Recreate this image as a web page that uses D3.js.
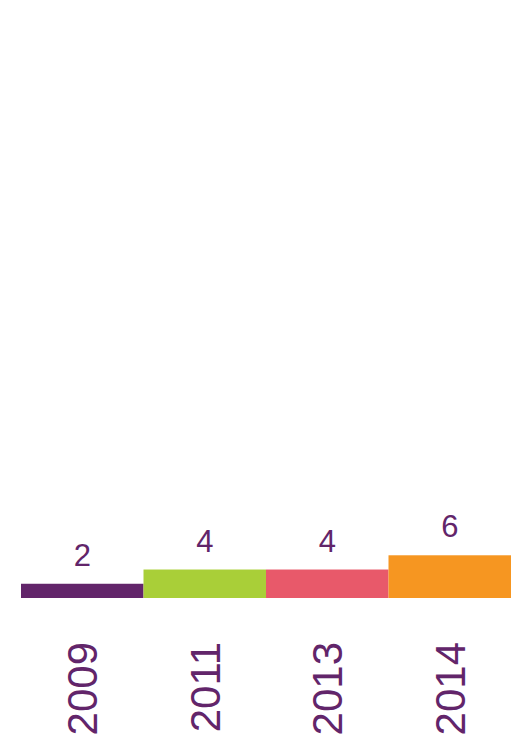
<!DOCTYPE html>
<html>
<head>
<meta charset="utf-8">
<script src="https://cdn.jsdelivr.net/npm/d3@7"></script>
<style>
  html, body { margin: 0; padding: 0; background: #fff; }
  svg { display: block; }
</style>
</head>
<body>
<div id="chart"></div>
<script>
// data
const years = ['2009', '2011', '2013', '2014'];
const counts = [2, 4, 4, 6];
const barColors = ['#62256A', '#A9CF38', '#E8596A', '#F69621'];

const width = 515, height = 737;
const margin = { left: 21, right: 4, baseline: 598 };
const textColor = '#62256A';

const svg = d3.select('#chart')
    .append('svg')
    .attr('width', width)
    .attr('height', height);

// x: one band per year, no gaps
const x = d3.scaleBand()
    .domain(years)
    .range([margin.left, width - margin.right])
    .padding(0);

// y: 7px per unit, baseline at 598
const y = d3.scaleLinear()
    .domain([0, 84])
    .range([margin.baseline, 0]);

const rows = years.map((yr, i) => ({ year: yr, value: counts[i], color: barColors[i] }));

// bars
svg.append('g')
    .selectAll('rect')
    .data(rows)
    .enter()
    .append('rect')
    .attr('x', d => x(d.year))
    .attr('y', d => y(d.value))
    .attr('width', x.bandwidth())
    .attr('height', d => y(0) - y(d.value))
    .attr('fill', d => d.color);

// value labels above bars
svg.append('g')
    .selectAll('text')
    .data(rows)
    .enter()
    .append('text')
    .attr('x', d => x(d.year) + x.bandwidth() / 2)
    .attr('y', d => y(d.value) - 18)
    .attr('text-anchor', 'middle')
    .attr('fill', textColor)
    .attr('font-family', 'Liberation Sans, Arial, sans-serif')
    .attr('font-size', '31px')
    .text(d => d.value);

// rotated year labels under the bars
svg.append('g')
    .selectAll('text')
    .data(rows)
    .enter()
    .append('text')
    .attr('transform', d => `translate(${x(d.year) + x.bandwidth() / 2}, 642) rotate(-90)`)
    .attr('dy', '0.36em')
    .attr('text-anchor', 'end')
    .attr('fill', textColor)
    .attr('font-family', 'Liberation Sans, Arial, sans-serif')
    .attr('font-size', '42px')
    .text(d => d.year);
</script>
</body>
</html>
